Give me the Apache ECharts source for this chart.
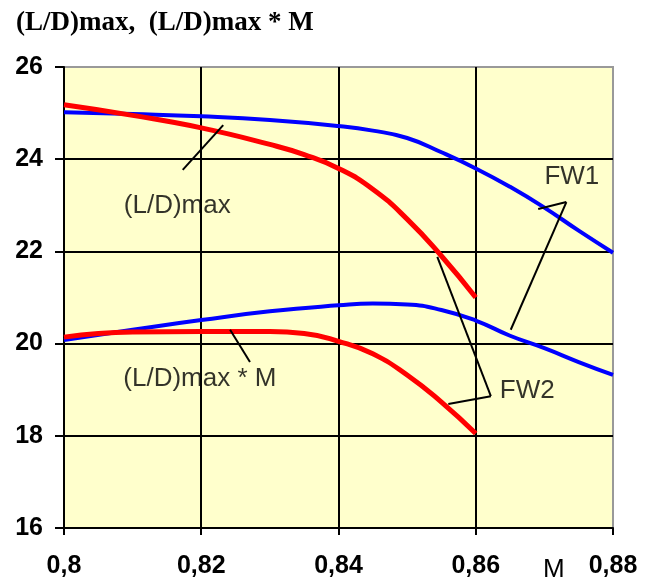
<!DOCTYPE html>
<html lang="en">
<head>
    <meta charset="UTF-8">
    <title>(L/D)max</title>
    <script src="https://cdn.jsdelivr.net/npm/echarts@6/dist/echarts.min.js"></script>
    <style>
        html, body { margin: 0; padding: 0; background: #fff; }
        #charts { width: 654px; height: 585px; }
    </style>
</head>
<body>
<div id="charts"></div>

<script>
    var chart = document.getElementById('charts');
    var myChart = echarts.init(chart);

    // Mach numbers
    var mFW1 = [0.80, 0.81, 0.82, 0.83, 0.84, 0.845, 0.85, 0.855, 0.86, 0.865, 0.87, 0.875, 0.88];
    var ldFW1 = [25.02, 24.98, 24.93, 24.85, 24.72, 24.62, 24.46, 24.15, 23.8, 23.4, 22.95, 22.45, 21.97];
    var ldmFW1 = [20.08, 20.3, 20.51, 20.7, 20.83, 20.87, 20.85, 20.73, 20.5, 20.17, 19.9, 19.6, 19.32];

    var mFW2 = [0.80, 0.81, 0.82, 0.83, 0.835, 0.84, 0.845, 0.85, 0.855, 0.86];
    var ldFW2 = [25.18, 24.95, 24.68, 24.32, 24.1, 23.8, 23.35, 22.7, 21.9, 21.0];
    var ldmFW2 = [20.14, 20.25, 20.26, 20.26, 20.22, 20.05, 19.78, 19.32, 18.73, 18.05];

    // annotations (data coords)
    var notes = [
        {text: '(L/D)max', at: [0.8165, 22.98]},
        {text: '(L/D)max * M', at: [0.8198, 19.23]},
        {text: 'FW1', at: [0.874, 23.61]},
        {text: 'FW2', at: [0.8675, 18.97]}
    ];
    var leaders = [
        [[0.8173, 23.77], [0.8232, 24.74]],
        [[0.8242, 20.3], [0.8271, 19.6]],
        [[0.8732, 23.07], [0.8691, 22.92]],
        [[0.8732, 23.07], [0.8651, 20.3]],
        [[0.8622, 18.86], [0.8544, 21.88]],
        [[0.8622, 18.86], [0.8560, 18.69]]
    ];

    function pairs(xs, ys) {
        var out = [];
        for (var i = 0; i < xs.length; i++) out.push([xs[i], ys[i]]);
        return out;
    }

    var lineData = [];
    for (var i = 0; i < leaders.length; i++) {
        lineData.push([{coord: leaders[i][0]}, {coord: leaders[i][1]}]);
    }

    var tickFont = {color: '#000', fontSize: 25, fontWeight: 'bold', fontFamily: 'Liberation Sans, Arial'};

    option = {
        animation: false,
        title: {
            text: '(L/D)max,  (L/D)max * M',
            left: 11,
            top: 5,
            textStyle: {color: '#000', fontSize: 27, fontWeight: 'bold', fontFamily: 'Liberation Serif, Times New Roman'}
        },
        grid: {
            left: 64, right: 41, top: 67, bottom: 57,
            show: true,
            backgroundColor: '#FFFFCC',
            borderColor: '#999',
            borderWidth: 2
        },
        xAxis: {
            type: 'value',
            min: 0.8, max: 0.88, interval: 0.02,
            axisLine: {show: true, lineStyle: {color: '#000', width: 2}},
            axisTick: {show: true, length: 7, lineStyle: {color: '#000', width: 2}},
            splitLine: {show: true, showMaxLine: false, lineStyle: {color: '#000', width: 2}},
            axisLabel: Object.assign({
                margin: 26,
                formatter: function (v) { return String(+v.toFixed(2)).replace('.', ','); }
            }, tickFont)
        },
        yAxis: {
            type: 'value',
            min: 16, max: 26, interval: 2,
            axisLine: {show: true, lineStyle: {color: '#000', width: 2}},
            axisTick: {show: true, length: 9, lineStyle: {color: '#000', width: 2}},
            splitLine: {show: true, showMaxLine: false, lineStyle: {color: '#000', width: 2}},
            axisLabel: Object.assign({margin: 21}, tickFont)
        },
        graphic: [{
            type: 'text',
            left: 543, top: 557,
            style: {text: 'M', fill: '#000', font: '26px Liberation Sans, Arial'}
        }],
        series: [
            {
                name: 'FW1 (L/D)max', type: 'line', smooth: true, showSymbol: false,
                lineStyle: {color: '#0000FF', width: 4},
                data: pairs(mFW1, ldFW1)
            },
            {
                name: 'FW1 (L/D)max*M', type: 'line', smooth: true, showSymbol: false,
                lineStyle: {color: '#0000FF', width: 4},
                data: pairs(mFW1, ldmFW1)
            },
            {
                name: 'FW2 (L/D)max', type: 'line', smooth: true, showSymbol: false,
                lineStyle: {color: '#FF0000', width: 5},
                data: pairs(mFW2, ldFW2)
            },
            {
                name: 'FW2 (L/D)max*M', type: 'line', smooth: true, showSymbol: false,
                lineStyle: {color: '#FF0000', width: 5},
                data: pairs(mFW2, ldmFW2),
                markLine: {
                    silent: true,
                    symbol: ['none', 'none'],
                    label: {show: false},
                    lineStyle: {color: '#000', width: 2, type: 'solid'},
                    data: lineData
                }
            },
            {
                name: 'notes', type: 'scatter', symbolSize: 0, silent: true,
                label: {
                    show: true, position: 'inside',
                    color: '#000', fontSize: 26, fontFamily: 'Liberation Sans, Arial',
                    formatter: function (p) { return p.data.name; }
                },
                data: notes.map(function (n) { return {name: n.text, value: n.at}; })
            }
        ]
    };

    myChart.setOption(option);
</script>
</body>
</html>
